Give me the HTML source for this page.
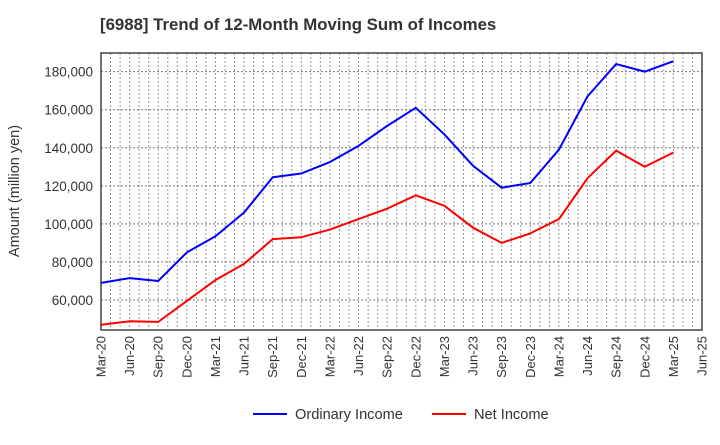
<!DOCTYPE html>
<html><head><meta charset="utf-8"><style>
body{margin:0;background:#fff;font-family:"Liberation Sans",Arial,sans-serif;}
</style></head><body>
<svg id="chart" width="720" height="440" xmlns="http://www.w3.org/2000/svg">
<text x="100" y="30" font-size="16.8" font-weight="bold" fill="#333">[6988]  Trend of 12-Month Moving Sum of Incomes</text>
<g id="grid"></g>
<g id="axes"></g>
<g id="series"></g>
<text transform="translate(19,191) rotate(-90)" text-anchor="middle" font-size="14.5" fill="#333">Amount (million yen)</text>
<g>
<line x1="253" y1="414" x2="287" y2="414" stroke="#0000ff" stroke-width="2"/>
<text x="295" y="419" font-size="14.6" fill="#333">Ordinary Income</text>
<line x1="432" y1="414" x2="466" y2="414" stroke="#ff0000" stroke-width="2"/>
<text x="474" y="419" font-size="14.6" fill="#333">Net Income</text>
</g>
</svg>
<script>
const categories=["Mar-20","Jun-20","Sep-20","Dec-20","Mar-21","Jun-21","Sep-21","Dec-21","Mar-22","Jun-22","Sep-22","Dec-22","Mar-23","Jun-23","Sep-23","Dec-23","Mar-24","Jun-24","Sep-24","Dec-24","Mar-25"];
const xTickLabels=["Mar-20","Jun-20","Sep-20","Dec-20","Mar-21","Jun-21","Sep-21","Dec-21","Mar-22","Jun-22","Sep-22","Dec-22","Mar-23","Jun-23","Sep-23","Dec-23","Mar-24","Jun-24","Sep-24","Dec-24","Mar-25","Jun-25"];
const ordinaryIncome=[69000,71500,70000,85000,93500,106000,124500,126500,132500,141000,151500,161000,147000,130500,119000,121500,139000,167000,184000,180000,185500];
const netIncome=[47000,48800,48500,59500,70500,79000,92000,93000,97000,102500,108000,115000,109500,98000,90000,95000,102500,124000,138500,130000,137500];
const yTicks=[60000,80000,100000,120000,140000,160000,180000];
const NS="http://www.w3.org/2000/svg";
const L=101,R=702,T=53,B=330,yMin=44230,yMax=189800;
const xs=i=>L+i*(R-L)/(xTickLabels.length-1);
const ys=v=>B-(v-yMin)/(yMax-yMin)*(B-T);
function mk(tag,attrs,parent){const e=document.createElementNS(NS,tag);for(const k in attrs)e.setAttribute(k,attrs[k]);parent.appendChild(e);return e;}
const grid=document.getElementById('grid'),axes=document.getElementById('axes'),series=document.getElementById('series');
const nMonths=(xTickLabels.length-1)*3;
for(let m=1;m<nMonths;m++){
  const x=L+m*(R-L)/nMonths;
  const g=mk('line',{x1:x,x2:x,y1:T,y2:B,stroke:'#999','stroke-width':1,'stroke-dasharray':'2,2'},grid);
  
  
}
yTicks.forEach(v=>{
  const y=ys(v);
  const g=mk('line',{x1:L,x2:R,y1:y,y2:y,stroke:'#777','stroke-width':1,'stroke-dasharray':'2,2'},grid);
  
  
  const t=mk('text',{x:L-8,y:y+5,'text-anchor':'end','font-size':13.5,fill:'#333'},axes);
  t.textContent=v.toLocaleString('en-US');
  
  
});
xTickLabels.forEach((lab,i)=>{
  const x=xs(i);
  const t=mk('text',{transform:`translate(${x+4.5},${B+6}) rotate(-90)`,'text-anchor':'end','font-size':13,fill:'#333'},axes);
  t.textContent=lab;
  
  
});
const frame=mk('rect',{x:L,y:T,width:R-L,height:B-T,fill:'none',stroke:'#444','stroke-width':1.5},axes);


function line(data,color,name){
  const p=mk('polyline',{points:data.map((v,i)=>xs(i)+','+ys(v)).join(' '),fill:'none',stroke:color,'stroke-width':2,'stroke-linejoin':'round'},series);
  
  
}
line(ordinaryIncome,'#0000ff','ordinary-income-line');
line(netIncome,'#ff0000','net-income-line');
</script>
</body></html>
